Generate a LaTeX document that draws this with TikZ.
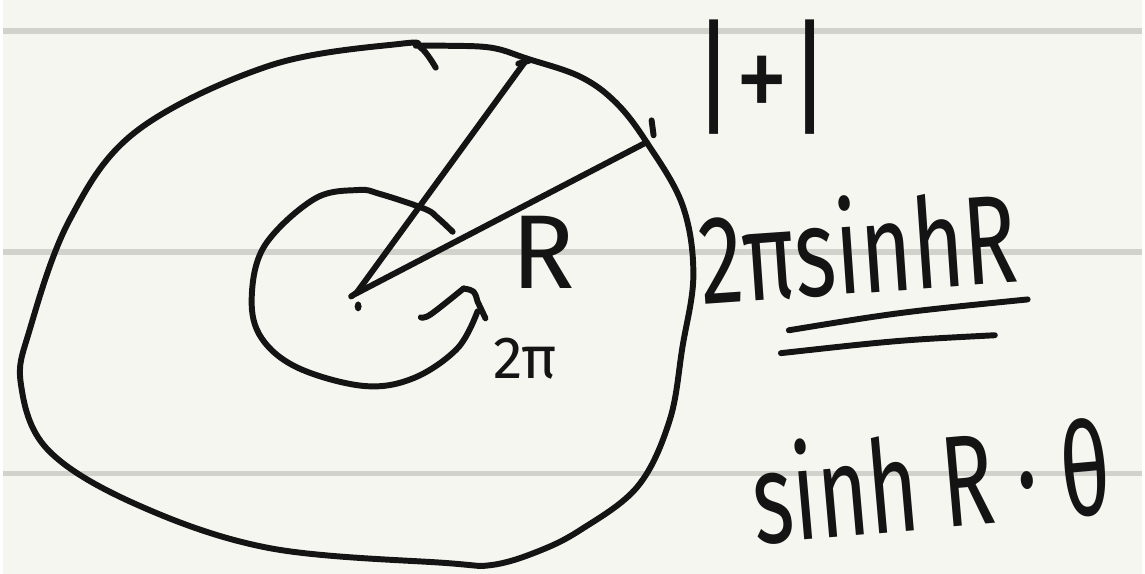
\documentclass[tikz,border=0pt]{standalone}
\usepackage{fontspec}
\newfontfamily\handfont{Fira Sans}
\usetikzlibrary{calc}
\definecolor{ink}{HTML}{141414}
\definecolor{paper}{HTML}{F6F6F1}
\definecolor{rulegray}{HTML}{D2D2CC}
\tikzset{
  pen/.style={line width=1.7pt, line cap=round, line join=round, color=ink},
  rule/.style={line width=1.7pt, color=rulegray},
  note/.style={inner sep=0pt, text=ink, font=\handfont}
}

\begin{document}
\begin{tikzpicture}[x=0.01cm, y=-0.01cm]
\fill[paper] (0,0) rectangle (1145,577);
\foreach \y in {31,253,476}
  \draw[rule] (0,\y) -- (1145,\y);

\coordinate (O) at (355,295);
\coordinate (P1) at (527,59);
\coordinate (P2) at (647,143);

% outer disc
\draw[pen] plot[smooth, tension=0.6] coordinates {
  (435,68) (420,48) (400,44) (268,66) (134,132) (67,221) (27,331)
  (18,386) (45,452) (134,507) (268,551) (446,566) (491,568)
  (536,555) (580,533) (638,489) (670,423) (683,349) (694,276)
  (683,206) (647,143) (616,103) (580,77) (527,59) (491,48)
  (446,46) (415,46)};
\draw[pen] (652,121) -- (654,136);
\draw[pen] (518,64) -- (529,61);

% radii
\draw[pen] (O) -- (P1);
\draw[pen] (O) -- (P2);
\draw[pen] (350,298) -- (359,292);
\fill[ink] (357,308) ellipse (3.5 and 5);

% small circle and turn
\draw[pen] plot[smooth, tension=0.6] coordinates {
  (452,233) (437,219) (424,210) (379,195) (357,191) (313,200)
  (263,247) (250,300) (260,340) (297,370) (363,388) (413,380)
  (457,350) (477,313)};
\draw[pen] plot[smooth, tension=0.6] coordinates {
  (420,319) (430,316) (463,290)};
\draw[pen] (463,290) .. controls (474,292) .. (477,303) -- (485,320);

% labels
\node[note, anchor=base west, font=\handfont\fontsize{30pt}{32pt}\selectfont] (r) at (510,290) {R};
\node[note, anchor=base west, font=\handfont\fontsize{17pt}{19pt}\selectfont] (twopi) at (492,380) {2π};
\node[note, xscale=0.85, font=\handfont\fontsize{36pt}{38pt}\selectfont] (area) at (763,78) {|+|};
\node[note, anchor=base west, rotate=4, xscale=0.7,
  font=\handfont\fontsize{36pt}{40pt}\selectfont] (length) at (703,306) {2πsinhR};
\node[note, anchor=base west, rotate=5, xscale=0.67,
  font=\handfont\fontsize{37pt}{39pt}\selectfont] (sector) at (757,547) {sinh R · θ};

\draw[pen] (790,332) .. controls (900,314) .. (1030,301);
\draw[pen] (782,355) .. controls (900,342) .. (997,337);
\end{tikzpicture}
\end{document}
